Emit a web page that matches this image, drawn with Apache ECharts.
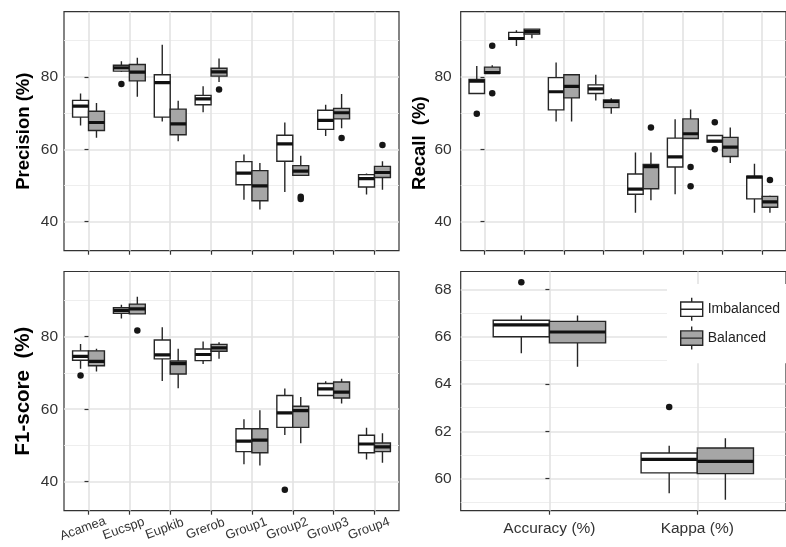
<!DOCTYPE html>
<html>
<head>
<meta charset="utf-8">
<script src="https://cdn.jsdelivr.net/npm/echarts@6/dist/echarts.min.js"></script>
<style>
  html, body { margin: 0; padding: 0; background: #ffffff; }
  #chart { width: 786px; height: 547px; }
</style>
</head>
<body>
<div id="chart"></div>
<script>
// ---- categories ----
const speciesNames = ['Acamea', 'Eucspp', 'Eupkib', 'Grerob', 'Group1', 'Group2', 'Group3', 'Group4'];
const overallNames = ['Accuracy (%)', 'Kappa (%)'];
const groupNames = ['Imbalanced', 'Balanced'];

// ---- box statistics: [lower whisker, Q1, median, Q3, upper whisker] per category ----
const precisionImbalanced = [
  [66.6, 68.9, 71.9, 73.5, 75.4], [81.4, 81.6, 82.5, 83.2, 84.3], [67.7, 68.9, 78.4, 80.6, 88.9], [70.2, 72.3, 73.9, 74.9, 77.4],
  [46.1, 50.2, 53.4, 56.6, 58.6], [48.2, 56.7, 61.5, 63.9, 67.4], [63.7, 65.5, 68.0, 70.8, 72.3], [47.5, 49.6, 51.9, 53.0, 53.3]
];
const precisionBalanced = [
  [63.2, 65.2, 67.4, 70.5, 72.8], [74.5, 78.9, 81.3, 83.4, 85.3], [62.2, 64.0, 67.0, 71.1, 73.4], [78.6, 80.2, 81.4, 82.4, 85.1],
  [43.4, 45.8, 49.9, 54.1, 56.2], [52.8, 52.8, 54.0, 55.5, 58.2], [65.8, 68.4, 70.1, 71.3, 75.3], [48.8, 52.2, 53.6, 55.3, 56.7]
];
const recallImbalanced = [
  [75.4, 75.4, 78.8, 79.3, 83.0], [88.5, 90.4, 90.6, 92.3, 92.9], [67.7, 70.9, 75.9, 79.8, 84.0], [73.5, 75.4, 76.7, 77.8, 80.6],
  [42.5, 47.6, 49.0, 53.2, 59.1], [47.6, 55.1, 57.9, 63.1, 68.3], [62.0, 62.0, 62.3, 63.8, 63.8], [42.5, 46.3, 52.3, 52.6, 56.0]
];
const recallBalanced = [
  [81.0, 81.0, 81.2, 82.7, 83.2], [90.7, 91.8, 92.5, 93.2, 93.2], [67.7, 74.2, 77.4, 80.6, 80.6], [69.8, 71.5, 73.2, 73.6, 74.1],
  [45.9, 49.1, 55.2, 55.8, 59.1], [63.0, 63.0, 64.3, 68.4, 71.0], [56.2, 58.0, 60.6, 63.3, 66.0], [42.5, 44.0, 45.5, 47.0, 47.2]
];
const f1Imbalanced = [
  [71.2, 73.5, 74.6, 76.1, 78.0], [85.0, 86.5, 87.3, 88.0, 88.8], [67.8, 73.9, 75.0, 79.1, 82.6], [72.5, 73.4, 75.1, 76.6, 78.7],
  [44.8, 48.3, 51.2, 54.6, 57.2], [52.9, 55.0, 59.0, 63.8, 65.7], [63.8, 63.8, 65.6, 67.1, 67.7], [46.1, 48.0, 50.4, 52.8, 54.9]
];
const f1Balanced = [
  [70.4, 72.0, 73.2, 76.1, 76.7], [86.3, 86.3, 87.7, 89.0, 91.0], [65.8, 69.7, 72.6, 73.3, 76.7], [73.9, 76.0, 76.9, 77.9, 78.5],
  [44.5, 48.0, 51.5, 54.6, 59.7], [50.6, 55.0, 59.6, 60.8, 63.4], [61.6, 63.1, 64.7, 67.5, 68.4], [45.2, 48.3, 49.6, 50.7, 53.4]
];
const overallImbalanced = [[65.3, 66.0, 66.5, 66.7, 66.9], [59.38, 60.24, 60.81, 61.08, 61.39]];
const overallBalanced = [[64.73, 65.74, 66.2, 66.65, 66.9], [59.1, 60.21, 60.73, 61.29, 61.7]];

// ---- outliers: [category index, value] ----
const precisionImbalancedOut = [[1, 78.0]];
const precisionBalancedOut = [[3, 76.5], [5, 46.9], [5, 46.3], [6, 63.1], [7, 61.2]];
const recallImbalancedOut = [[0, 69.8], [6, 67.5], [6, 60.0]];
const recallBalancedOut = [[0, 88.6], [0, 75.5], [4, 66.0], [5, 55.1], [5, 49.8], [7, 51.5]];
const f1ImbalancedOut = [[0, 69.3], [5, 37.8]];
const f1BalancedOut = [[1, 81.7]];
const overallImbalancedOut = [[0, 68.3], [1, 63.03]];
const overallBalancedOut = [];

// ---- tick values ----
const percentTicks = [40, 60, 80];
const percentMinor = [50, 70, 90];
const overallTicks = [60, 62, 64, 66, 68];
const overallMinor = [59, 61, 63, 65, 67];

// ---- styling ----
const FONT = 'Liberation Sans, Arial, Helvetica, sans-serif';
const EDGE = '#262626';
const FILLS = ['#ffffff', '#a6a6a6'];
const GRID_MAJOR = '#e3e3e3';
const GRID_MINOR = '#ececec';

const panels = [
  { left: 64, top: 11.7, width: 335, height: 239, cats: speciesNames, ymin: 32, ymax: 98, ticks: percentTicks, minor: percentMinor,
    name: 'Precision (%)', nameSize: 18.5, nameGap: 31, namePad: 0, labelMargin: 6, showX: false, boxW: 0.39,
    stats: [precisionImbalanced, precisionBalanced], out: [precisionImbalancedOut, precisionBalancedOut] },
  { left: 460.7, top: 11.7, width: 334.6, height: 239, cats: speciesNames, ymin: 32, ymax: 98, ticks: percentTicks, minor: percentMinor,
    name: 'Recall  (%)', nameSize: 18.5, nameGap: 31, namePad: 24, labelMargin: 9, showX: false, boxW: 0.39,
    stats: [recallImbalanced, recallBalanced], out: [recallImbalancedOut, recallBalancedOut] },
  { left: 64, top: 271.5, width: 335, height: 239.2, cats: speciesNames, ymin: 32, ymax: 98, ticks: percentTicks, minor: percentMinor,
    name: 'F1-score  (%)', nameSize: 20.5, nameGap: 30.5, namePad: 0, labelMargin: 6, showX: 'rotated', boxW: 0.39,
    stats: [f1Imbalanced, f1Balanced], out: [f1ImbalancedOut, f1BalancedOut] },
  { left: 460.7, top: 271.5, width: 333.5, height: 239.2, cats: overallNames, ymin: 58.64, ymax: 68.76, ticks: overallTicks, minor: overallMinor,
    name: '', nameSize: 18.5, nameGap: 31, namePad: 0, labelMargin: 9, showX: 'flat', boxW: 0.38,
    stats: [overallImbalanced, overallBalanced], out: [overallImbalancedOut, overallBalancedOut] }
];

function boxRenderer(dodge, halfW, fill) {
  return function (params, api) {
    const x = api.value(0) + dodge;
    const lo = api.coord([x, api.value(1)]);
    const q1 = api.coord([x, api.value(2)]);
    const md = api.coord([x, api.value(3)]);
    const q3 = api.coord([x, api.value(4)]);
    const hi = api.coord([x, api.value(5)]);
    const l = api.coord([x - halfW, api.value(3)])[0];
    const r = api.coord([x + halfW, api.value(3)])[0];
    const lineStyle = { stroke: EDGE, lineWidth: 1.4 };
    return {
      type: 'group',
      children: [
        { type: 'line', shape: { x1: hi[0], y1: hi[1], x2: q3[0], y2: q3[1] }, style: lineStyle },
        { type: 'line', shape: { x1: lo[0], y1: lo[1], x2: q1[0], y2: q1[1] }, style: lineStyle },
        { type: 'rect', shape: { x: l, y: q3[1], width: r - l, height: q1[1] - q3[1] },
          style: { fill: fill, stroke: EDGE, lineWidth: 1.4 } },
        { type: 'line', shape: { x1: l, y1: md[1], x2: r, y2: md[1] }, style: { stroke: '#111', lineWidth: 3.2 } }
      ]
    };
  };
}

const grids = [], xAxes = [], yAxes = [], series = [];

panels.forEach((p, gi) => {
  grids.push({ left: p.left, top: p.top, width: p.width, height: p.height, show: true,
    backgroundColor: '#fff', borderColor: '#333', borderWidth: 1.2, containLabel: false });

  const idx = p.cats.map((_, i) => i);
  const xLabel = {
    show: !!p.showX,
    customValues: idx,
    formatter: v => p.cats[Math.round(v)],
    fontFamily: FONT,
    color: '#333'
  };
  if (p.showX === 'rotated') {
    Object.assign(xLabel, { rotate: 20, align: 'center', verticalAlign: 'middle', fontSize: 13, margin: 16, padding: [0, 12, 0, 0] });
  } else {
    Object.assign(xLabel, { fontSize: 15.5, margin: 10 });
  }
  xAxes.push({
    type: 'value', gridIndex: gi, min: -0.6, max: p.cats.length - 0.4,
    axisLine: { show: false },
    axisTick: { show: true, customValues: idx, length: 4, inside: false, lineStyle: { color: '#333', width: 1.2 } },
    axisLabel: xLabel,
    splitLine: { show: true, lineStyle: { color: GRID_MAJOR, width: 1.6 } }
  });

  // major axis (labels, ticks, major grid)
  yAxes.push({
    type: 'value', gridIndex: gi, min: p.ymin, max: p.ymax, position: 'left',
    name: p.name, nameLocation: 'middle', nameGap: p.nameGap,
    nameTextStyle: { fontFamily: FONT, fontSize: p.nameSize, fontWeight: 'bold', color: '#000', padding: [0, p.namePad, 0, 0] },
    axisLine: { show: false },
    axisTick: { show: true, customValues: p.ticks, length: 4, lineStyle: { color: '#333', width: 1.2 } },
    axisLabel: { show: true, customValues: p.ticks, fontFamily: FONT, fontSize: 15.5, color: '#333', margin: p.labelMargin },
    splitLine: { show: true, lineStyle: { color: GRID_MAJOR, width: 1.6 } }
  });
  const majorIndex = yAxes.length - 1;
  // minor grid lines
  yAxes.push({
    type: 'value', gridIndex: gi, min: p.ymin, max: p.ymax, position: 'left',
    axisLine: { show: false },
    axisTick: { show: false, customValues: p.minor },
    axisLabel: { show: false },
    splitLine: { show: true, lineStyle: { color: GRID_MINOR, width: 0.9 } }
  });

  const half = p.boxW / 2;
  [0, 1].forEach(g => {
    const dodge = g === 0 ? -half : half;
    series.push({
      type: 'custom', name: groupNames[g], xAxisIndex: gi, yAxisIndex: majorIndex,
      renderItem: boxRenderer(dodge, half, FILLS[g]),
      encode: { x: 0, y: [1, 2, 3, 4, 5] },
      itemStyle: { color: FILLS[g], borderColor: EDGE },
      clip: true, z: 3,
      data: p.stats[g].map((s, i) => [i].concat(s))
    });
    series.push({
      type: 'scatter', name: groupNames[g], xAxisIndex: gi, yAxisIndex: majorIndex,
      symbol: 'circle', symbolSize: 6.5, z: 4,
      itemStyle: { color: '#161616', opacity: 1 },
      data: p.out[g].map(([i, v]) => [i + dodge, v])
    });
  });
});

const legendIcon = 'path://M0,4.3H22V18.7H0Z M0,11.5H22 M11,0V4.3 M11,18.7V23';

const chart = echarts.init(document.getElementById('chart'), null, { renderer: 'canvas' });
chart.setOption({
  animation: false,
  backgroundColor: '#ffffff',
  textStyle: { fontFamily: FONT },
  grid: grids,
  xAxis: xAxes,
  yAxis: yAxes,
  legend: {
    orient: 'vertical', left: 667, top: 284,
    padding: [13, 10, 13, 13], backgroundColor: '#ffffff',
    itemWidth: 22, itemHeight: 23, itemGap: 4.5,
    textStyle: { fontFamily: FONT, fontSize: 14, color: '#222' },
    data: [
      { name: 'Imbalanced', icon: legendIcon, itemStyle: { color: FILLS[0], borderColor: EDGE, borderWidth: 1.4 } },
      { name: 'Balanced', icon: legendIcon, itemStyle: { color: FILLS[1], borderColor: EDGE, borderWidth: 1.4 } }
    ]
  },
  series: series
});
</script>
</body>
</html>
